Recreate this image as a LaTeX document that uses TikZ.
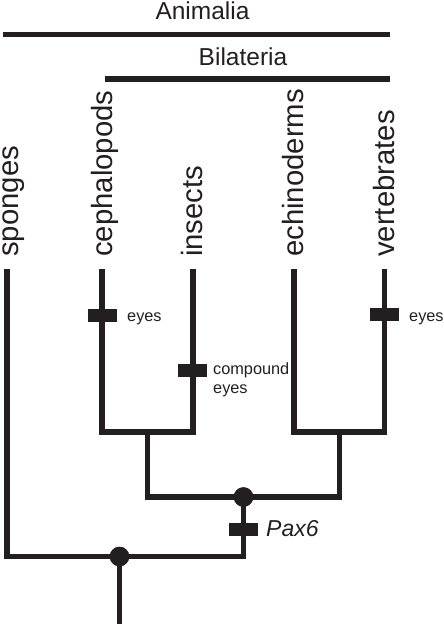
\documentclass[tikz,border=0pt]{standalone}
\usepackage{fontspec}
\setmainfont{Liberation Sans}
\definecolor{ink}{HTML}{231F20}
\begin{document}
\begin{tikzpicture}[x=1pt,y=-1pt,
  branch/.style={line width=5.5pt, draw=ink, line join=miter},
  cladebar/.style={line width=5.5pt, draw=ink},
  taxon/.style={rotate=90, anchor=base west, inner sep=0pt, text=ink, font=\fontsize{29.3}{30}\selectfont},
  cladename/.style={anchor=base, inner sep=0pt, text=ink, font=\fontsize{24.5}{26}\selectfont},
  marker/.style={fill=ink, draw=none, inner sep=0pt, minimum width=29pt, minimum height=13pt},
  junction/.style={circle, fill=ink, draw=none, inner sep=0pt, minimum size=19.5pt},
  note/.style={anchor=base west, inner sep=0pt, text=ink, font=\fontsize{16.3}{19.5}\selectfont}]
\useasboundingbox (0,0) rectangle (444,624);

% clade bars
\node[cladename] (animalia) at (202.5,19) {Animalia};
\coordinate (aL) at (3,34.5);
\coordinate (aR) at (390,34.5);
\draw[cladebar] (aL) -- (aR);
\node[cladename] (bilateria) at (243,65) {Bilateria};
\coordinate (bL) at (105,79);
\coordinate (bR) at (390,79);
\draw[cladebar] (bL) -- (bR);

% taxon labels
\node[taxon] (lS) at (18.5,257) {sponges};
\node[taxon] (lC) at (112.5,257) {cephalopods};
\node[taxon] (lI) at (202,257) {insects};
\node[taxon] (lE) at (303.5,257) {echinoderms};
\node[taxon] (lV) at (394,257) {vertebrates};

% tips and joins
\coordinate (tS) at (7,269);
\coordinate (tC) at (102,269);
\coordinate (tI) at (193,269);
\coordinate (tE) at (294,269);
\coordinate (tV) at (384.5,269);
\coordinate (jCI) at (147.5,432);
\coordinate (jEV) at (339.5,432);
\coordinate (base) at (119.5,624);

% junction dots
\node[junction] (bil) at (243.5,497) {};
\node[junction] (root) at (119.5,556.5) {};

% branches
\draw[branch] (tC) |- (jCI) -| (tI);
\draw[branch] (tE) |- (jEV) -| (tV);
\draw[branch] (jCI) |- (bil.center) -| (jEV);
\draw[branch] (tS) |- (root.center) -| (bil.center);
\draw[branch] (root.center) -- (base);

% redraw dots on top
\fill[ink] (bil.center) circle (9.75pt);
\fill[ink] (root.center) circle (9.75pt);

% character markers
\node[marker] (mC) at (102.5,315) {};
\node[note] (eC) at (127,321.5) {eyes};
\node[marker] (mI) at (192.5,370) {};
\node[note] (eI1) at (213,374) {compound};
\node[note] (eI2) at (213,393.5) {eyes};
\node[marker] (mV) at (384.5,314.5) {};
\node[note] (eV) at (409,321.5) {eyes};
\node[marker] (mP) at (243.5,529.5) {};
\node[anchor=base west, inner sep=0pt, text=ink, font=\fontsize{23}{24}\selectfont\itshape] (pax) at (266,536) {Pax6};
\end{tikzpicture}
\end{document}
